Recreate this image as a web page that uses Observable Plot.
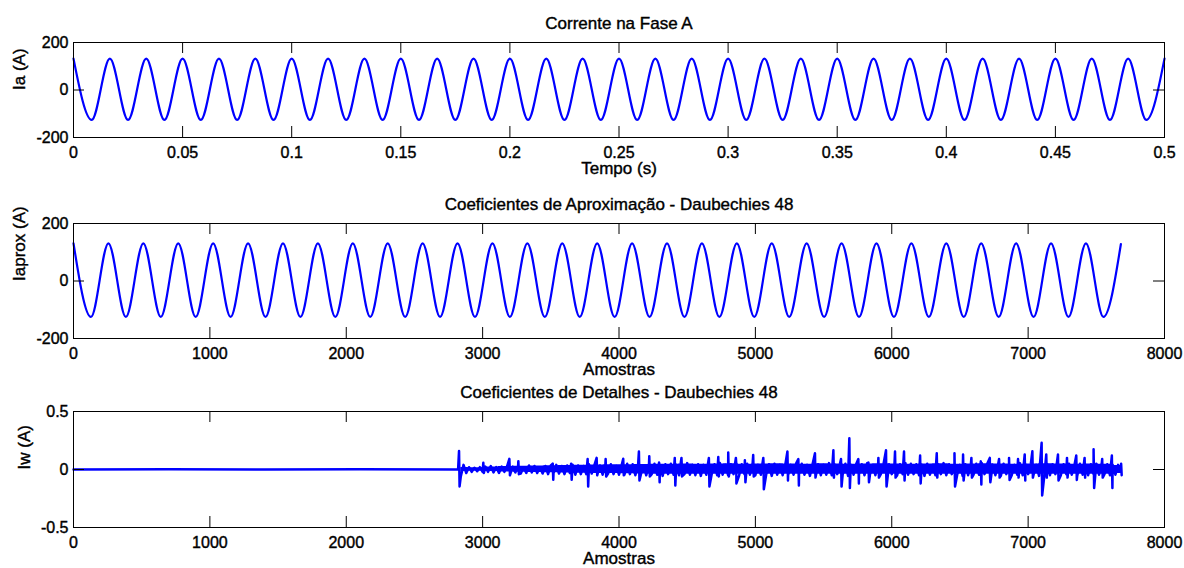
<!DOCTYPE html>
<html><head><meta charset="utf-8">
<script src="https://cdn.jsdelivr.net/npm/d3@7"></script>
<script src="https://cdn.jsdelivr.net/npm/@observablehq/plot@0.6"></script>
<style>
body{margin:0;background:#fff;}
#chart{width:1184px;height:568px;overflow:hidden;}
#chart svg{display:block;}
#chart svg text{stroke:#000;stroke-width:0.4px;}
</style></head><body><div id="chart"></div>
<script>
const FONT = "'Liberation Sans', Arial, Helvetica, sans-serif";
const BLUE = "#0000ff";

// ---------- Panel 1: Corrente na Fase A ----------
const title1 = "Corrente na Fase A";
const xLabel1 = "Tempo (s)";
const yLabel1 = "Ia (A)";
const timeTicks = [0, 0.05, 0.1, 0.15, 0.2, 0.25, 0.3, 0.35, 0.4, 0.45, 0.5];
const timeTickLabels = ["0", "0.05", "0.1", "0.15", "0.2", "0.25", "0.3", "0.35", "0.4", "0.45", "0.5"];
const currentTicks = [-200, 0, 200];
const currentTickLabels = ["-200", "0", "200"];
const iaHalfPeriod = 1 / 120; // seconds between successive peak/trough (60 Hz)
const iaExtrema = [132,-126,132,-126,132,-126,132,-126,132,-126,132,-126,132,-126,132,-126,132,-126,132,-126,
                   132,-126,132,-126,132,-126,132,-126,132,-126,132,-126,132,-126,132,-126,132,-126,132,-126,
                   132,-126,132,-126,132,-126,132,-126,132,-126,132,-126,132,-126,132,-126,132,-126,132,-126,132];

// ---------- Panel 2: Coeficientes de Aproximação ----------
const title2 = "Coeficientes de Aproximação - Daubechies 48";
const xLabel2 = "Amostras";
const yLabel2 = "Iaprox (A)";
const sampleTicks = [0, 1000, 2000, 3000, 4000, 5000, 6000, 7000, 8000];
const sampleTickLabels = ["0", "1000", "2000", "3000", "4000", "5000", "6000", "7000", "8000"];
const approxHalfPeriod = 128; // samples between successive peak/trough
const iaproxExtrema = [131,-125,131,-125,131,-125,131,-125,131,-125,131,-125,131,-125,131,-125,131,-125,131,-125,
                       131,-125,131,-125,131,-125,131,-125,131,-125,131,-125,131,-125,131,-125,131,-125,131,-125,
                       131,-125,131,-125,131,-125,131,-125,131,-125,131,-125,131,-125,131,-125,131,-125,131,-125,128];

// ---------- Panel 3: Coeficientes de Detalhes ----------
const title3 = "Coeficientes de Detalhes - Daubechies 48";
const xLabel3 = "Amostras";
const yLabel3 = "Iw (A)";
const detailTicks = [-0.5, 0, 0.5];
const detailTickLabels = ["-0.5", "0", "0.5"];
const iwQuietSamples = [0, 700, 1400, 2100, 2820];
const iwQuietValues  = [0, 0.002, 0, 0.002, 0];
const iwBandStart = 2840, iwBandStep = 20;
const iwBand = [
 -.06,.04,-.03,.02,-.02,.015,-.015,.02,-.02,.025,
 -.02,.03,-.025,.02,-.03,.025,-.02,.03,-.03,.025,
 -.025,.03,-.035,.02,-.03,.035,-.025,.03,-.03,.02,
 -.035,.03,-.04,.035,-.03,.04,-.035,.03,-.04,.035,
 -.03,.04,-.045,.035,-.04,.03,-.04,.045,-.035,.04,
 -.04,.035,-.045,.04,-.035,.045,-.04,.03,-.045,.04,
 -.045,.05,-.04,.045,-.05,.04,-.045,.035,-.05,.045,
 -.04,.05,-.045,.04,-.055,.045,-.04,.05,-.045,.04,
 -.05,.045,-.04,.055,-.045,.04,-.05,.045,-.055,.04,
 -.045,.05,-.04,.045,-.05,.055,-.045,.04,-.05,.045,
 -.04,.05,-.055,.045,-.04,.05,-.045,.055,-.05,.04,
 -.045,.05,-.04,.045,-.055,.05,-.045,.04,-.05,.045,
 -.05,.04,-.045,.055,-.04,.05,-.045,.04,-.055,.05,
 -.04,.045,-.05,.04,-.045,.055,-.05,.045,-.04,.05,
 -.045,.05,-.055,.04,-.045,.05,-.04,.045,-.05,.055,
 -.045,.04,-.05,.045,-.04,.05,-.055,.045,-.04,.05,
 -.05,.045,-.04,.055,-.045,.05,-.04,.045,-.05,.04,
 -.055,.05,-.045,.04,-.05,.045,-.04,.055,-.05,.045,
 -.04,.05,-.045,.04,-.055,.045,-.05,.04,-.045,.05,
 -.045,.055,-.04,.05,-.045,.04,-.05,.045,-.055,.05,
 -.04,.045,-.05,.04,-.045,.055,-.05,.045,-.04,.05,
 -.045,.04,-.055,.05,-.04,.045,-.05,.045,-.04,.055,
 -.05,.045,-.04,.05,-.045,.04,-.055,.05,-.045,.04,
 -.05,.045,-.04,.05,-.045,.055,-.04,.045,-.05,.04,
 -.045,.04,-.02
];
// solid core of the noise band (upper / lower edge), every 110 samples from 2840
const iwEnvStart = 2840, iwEnvStep = 110;
const iwEnvUpper = [.018,.015,.022,.025,.027,.03,.032,.034,.036,.038,.04,.042,.044,.046,.045,.048,.045,.047,.05,.045,.047,.05,.047,.045,
                    .05,.047,.045,.047,.05,.047,.045,.047,.05,.045,.047,.05,.047,.045,.047,.05,.047,.045,.047,.045,.035];
const iwEnvLower = [-.018,-.015,-.018,-.022,-.024,-.026,-.028,-.03,-.032,-.034,-.035,-.037,-.039,-.04,-.041,-.041,-.04,-.042,-.041,-.04,-.042,-.041,-.04,-.042,
                    -.041,-.04,-.042,-.041,-.04,-.042,-.041,-.04,-.042,-.041,-.04,-.042,-.041,-.04,-.042,-.041,-.04,-.041,-.04,-.04,-.035];
const iwSpikeSamples = [2827,3005,3196,3262,3514,3649,3770,3836,3902,4031,4146,4222,4294,4409,4458,4659,4728,4801,4857,4923,4984,5058,
                        5235,5315,5437,5572,5628,5689,5755,5829,5902,5958,6024,6090,6208,6330,6460,6523,6584,6653,6719,6787,6860,6926,6975,
                        7031,7099,7133,7219,7285,7353,7414,7480,7543,7614,7682];
const iwSpikeHigh = [0.16,0.058,0.092,0.072,0.05,0.05,0.09,0.10,0.09,0.092,0.155,0.115,0.06,0.10,0.10,0.10,0.107,0.147,0.10,0.08,0.124,0.10,
                     0.155,0.09,0.14,0.165,0.09,0.27,0.09,0.06,0.10,0.166,0.155,0.155,0.12,0.14,0.14,0.13,0.10,0.07,0.10,0.09,0.10,0.09,0.13,
                     0.157,0.23,0.13,0.13,0.10,0.12,0.10,0.175,0.09,0.12,0.05];
const iwSpikeLow = [-0.146,-0.03,-0.05,-0.04,-0.089,-0.089,-0.147,-0.05,-0.06,-0.05,-0.095,-0.06,-0.11,-0.138,-0.06,-0.147,-0.06,-0.06,-0.12,-0.11,-0.06,-0.17,
                    -0.095,-0.138,-0.07,-0.07,-0.147,-0.16,-0.12,-0.11,-0.07,-0.147,-0.07,-0.095,-0.12,-0.07,-0.147,-0.095,-0.07,-0.13,-0.11,-0.07,-0.09,-0.07,-0.095,
                    -0.07,-0.224,-0.07,-0.095,-0.07,-0.09,-0.07,-0.16,-0.07,-0.16,-0.05];

// ---------- build tables ----------
const ia = iaExtrema.map((v, i) => ({x: i * iaHalfPeriod, y: v}));
const iaprox = iaproxExtrema.map((v, i) => ({x: i * approxHalfPeriod, y: v}));
const iw = [];
iwQuietSamples.forEach((s, i) => iw.push({x: s, y: iwQuietValues[i]}));
iwBand.forEach((v, i) => iw.push({x: iwBandStart + i * iwBandStep, y: v}));
iwSpikeSamples.forEach((s, i) => { iw.push({x: s, y: iwSpikeHigh[i]}); iw.push({x: s + 4, y: iwSpikeLow[i]}); });
iw.sort((a, b) => a.x - b.x);
const iwEnv = iwEnvUpper.map((u, i) => ({x: iwEnvStart + i * iwEnvStep, y1: iwEnvLower[i], y2: u}));

const ML = 73, MR = 20, W = 1184, TICK = 11;

function panel(o) {
  const fh = o.height - o.mt - o.mb;
  const fw = W - ML - MR;
  return Plot.plot({
    width: W, height: o.height,
    marginTop: o.mt, marginBottom: o.mb, marginLeft: ML, marginRight: MR,
    style: {fontFamily: FONT, fontSize: "16px", color: "#000", background: "#fff", overflow: "visible"},
    x: {domain: o.xDomain, ticks: o.xTicks, tickFormat: d => o.xLabels[o.xTicks.indexOf(d)], tickSize: 0, tickPadding: 9, label: null},
    y: {domain: o.yDomain, ticks: o.yTicks, tickFormat: d => o.yLabels[o.yTicks.indexOf(d)], tickSize: 0, tickPadding: 5, label: null},
    marks: [
      o.band ? Plot.areaY(o.band, {x: "x", y1: "y1", y2: "y2", fill: BLUE, curve: "step"}) : null,
      Plot.line(o.data, {x: "x", y: "y", stroke: BLUE, strokeWidth: o.sw, curve: o.curve}),
      Plot.frame({stroke: "#000"}),
      Plot.tickX(o.xTicks, {x: d => d, insetTop: fh - TICK, stroke: "#000"}),
      Plot.tickX(o.xTicks, {x: d => d, insetBottom: fh - TICK, stroke: "#000"}),
      Plot.tickY(o.yTicks, {y: d => d, insetRight: fw - TICK, stroke: "#000"}),
      Plot.tickY(o.yTicks, {y: d => d, insetLeft: fw - TICK, stroke: "#000"}),
      Plot.text([o.title], {text: d => d, frameAnchor: "top", dy: -18.5, lineAnchor: "middle", fontSize: 17, fill: "#000"}),
      Plot.text([o.xLabel], {text: d => d, frameAnchor: "bottom", dy: 31.5, lineAnchor: "middle", fontSize: 17, fill: "#000"}),
      Plot.text([o.yLabel], {text: d => d, frameAnchor: "left", dx: o.yDx, rotate: -90, lineAnchor: "middle", fontSize: 17, fill: "#000"})
    ]
  });
}

const chart = document.getElementById("chart");
chart.append(panel({height: 185, mt: 42, mb: 48, xDomain: [0, 0.5], xTicks: timeTicks, xLabels: timeTickLabels,
  yDomain: [-200, 200], yTicks: currentTicks, yLabels: currentTickLabels, data: ia, sw: 2.2, curve: "monotone-x",
  title: title1, xLabel: xLabel1, yLabel: yLabel1, yDx: -53.5}));
chart.append(panel({height: 195, mt: 38, mb: 42, xDomain: [0, 8000], xTicks: sampleTicks, xLabels: sampleTickLabels,
  yDomain: [-200, 200], yTicks: currentTicks, yLabels: currentTickLabels, data: iaprox, sw: 2.2, curve: "monotone-x",
  title: title2, xLabel: xLabel2, yLabel: yLabel2, yDx: -53.5}));
chart.append(panel({height: 188, mt: 31, mb: 41, xDomain: [0, 8000], xTicks: sampleTicks, xLabels: sampleTickLabels,
  yDomain: [-0.5, 0.5], yTicks: detailTicks, yLabels: detailTickLabels, data: iw, band: iwEnv, sw: 2.5, curve: "linear",
  title: title3, xLabel: xLabel3, yLabel: yLabel3, yDx: -49}));
</script></body></html>
